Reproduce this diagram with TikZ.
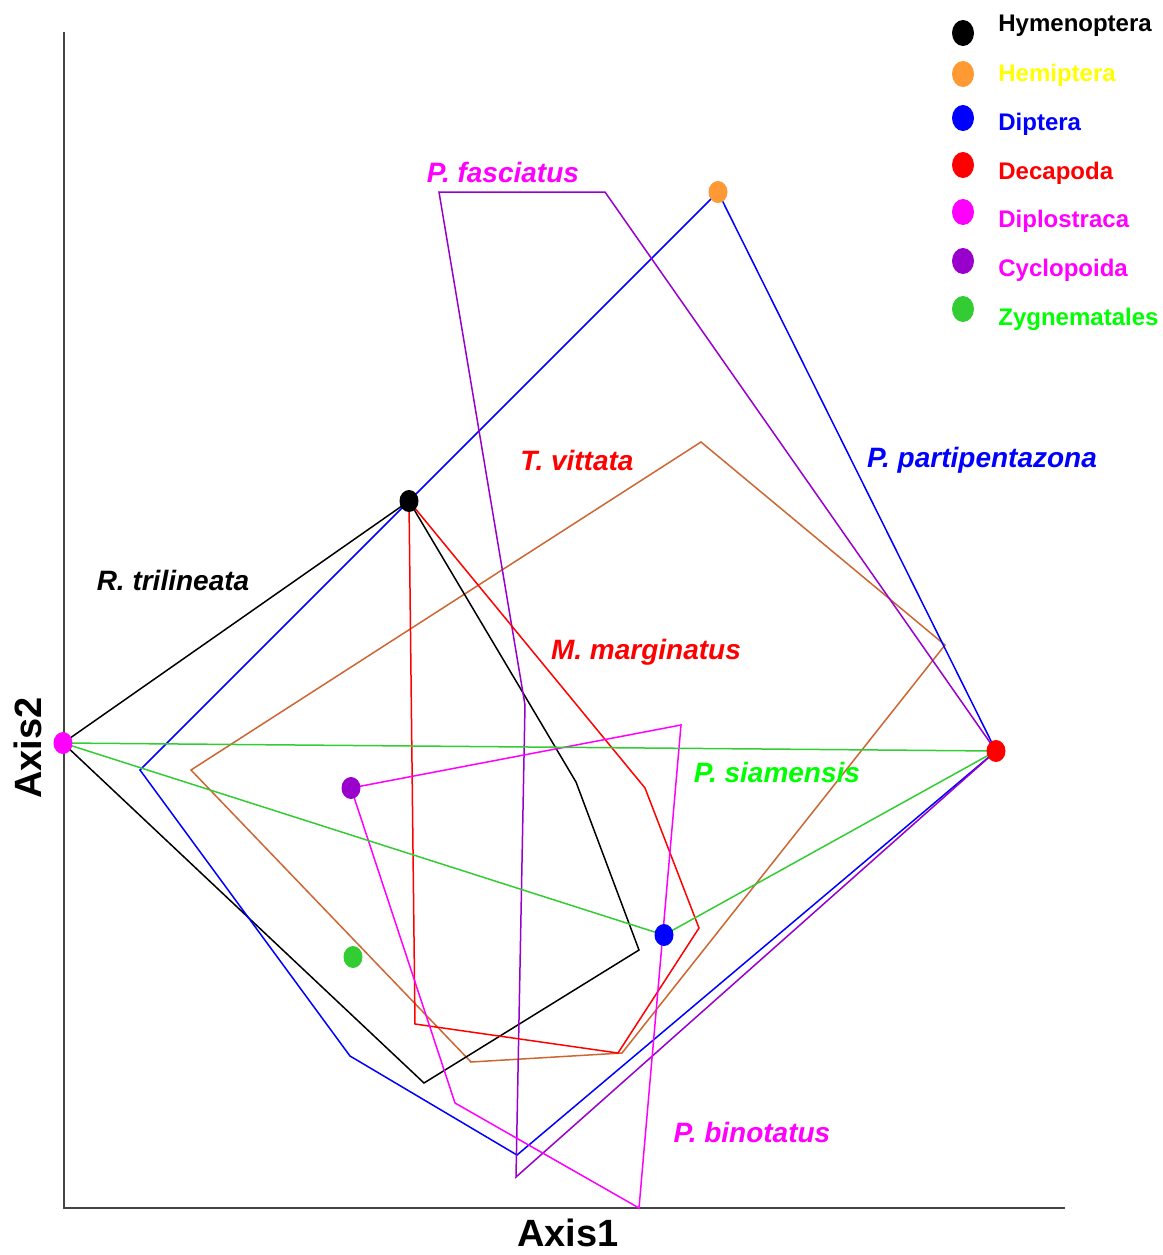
\documentclass[tikz,border=0pt]{standalone}
\usepackage{fontspec}
\setmainfont{Liberation Sans}
\usetikzlibrary{positioning,shapes.geometric}
\definecolor{hemorange}{HTML}{FF9933}
\definecolor{cycpurple}{HTML}{9900CC}
\definecolor{zyggreen}{HTML}{33CC33}
\definecolor{limegreen}{HTML}{00FF00}
\definecolor{labelyellow}{HTML}{FFFF00}
\definecolor{pinkmag}{HTML}{FF00FF}
\definecolor{hullbrown}{HTML}{CC6633}
\definecolor{axisgray}{HTML}{444444}
\tikzset{
  axisline/.style={draw=axisgray,line width=0.6pt},
  hull/.style={line width=0.75pt,line join=miter},
  dot/.style={
    ellipse,
    inner sep=0pt,
    minimum width=9.5pt,
    minimum height=11pt
  },
  keydot/.style={
    ellipse,
    inner sep=0pt,
    minimum width=11pt,
    minimum height=13pt
  },
  keytext/.style={anchor=west,inner sep=0pt,font=\fontsize{12}{14}\selectfont\bfseries},
  species/.style={font=\fontsize{14}{16}\selectfont\bfseries\itshape},
  axistitle/.style={inner sep=0pt,font=\fontsize{19}{22}\selectfont\bfseries}
}

\begin{document}
\begin{tikzpicture}[x=0.5pt,y=-0.5pt]
\useasboundingbox (0,0) rectangle (1163,1255);
\draw[axisline] (64,32) -- (64,1208) -- (1065,1208);
\coordinate (hym) at (409,501);
\coordinate (hem) at (718,192);
\coordinate (dip) at (664,935);
\coordinate (dec) at (996,751);
\coordinate (dpl) at (63,743);
\coordinate (cyc) at (351,788);
\coordinate (zyg) at (353,957);
% convex hulls
\draw[hull,draw=hullbrown] (701,442) -- (945,645) -- (622,1053) -- (471,1062) -- (191,770) -- cycle;
\draw[hull,draw=black] (hym) -- (576,782) -- (639,950) -- (424,1083) -- (dpl) -- cycle;
\draw[hull,draw=blue] (hym) -- (hem) -- (dec) -- (517,1155) -- (350,1056) -- (140,770) -- cycle;
\draw[hull,draw=cycpurple] (439,192) -- (605,192) -- (dec) -- (516,1177) -- (525,705) -- cycle;
\draw[hull,draw=red] (hym) -- (645,788) -- (699,928) -- (618,1053) -- (415,1024) -- cycle;
\draw[hull,draw=pinkmag] (cyc) -- (681,725) -- (639,1208) -- (455,1103) -- cycle;
\draw[hull,draw=zyggreen] (dpl) -- (dec) -- (dip) -- cycle;
% points
\node[dot,fill=black] (hymdot) at (hym) {};
\node[dot,fill=hemorange] (hemdot) at (hem) {};
\node[dot,fill=blue] (dipdot) at (dip) {};
\node[dot,fill=red] (decdot) at (dec) {};
\node[dot,fill=pinkmag] (dpldot) at (dpl) {};
\node[dot,fill=cycpurple] (cycdot) at (cyc) {};
\node[dot,fill=zyggreen] (zygdot) at (zyg) {};
% species labels
\node[species,text=pinkmag] (fasc) at (503,172) {P. fasciatus};
\node[species,text=red] (vitt) at (577,460) {T. vittata};
\node[species,text=blue] (part) at (982,460) {P. partipentazona};
\node[species,text=black] (tril) at (173,580) {R. trilineata};
\node[species,text=red] (marg) at (646,652) {M. marginatus};
\node[species,text=limegreen] (siam) at (777,772) {P. siamensis};
\node[species,text=pinkmag] (bino) at (752,1132) {P. binotatus};
% axis titles
\node[axistitle,rotate=90] (ytitle) at (28,748) {Axis2};
\node[axistitle] (xtitle) at (568,1233) {Axis1};
% legend
\foreach \name/\dy/\ty/\dcol/\tcol in {
  Hymenoptera/33/26/black/black,
  Hemiptera/74/75/hemorange/labelyellow,
  Diptera/118/124/blue/blue,
  Decapoda/165/173/red/red,
  Diplostraca/212/221/pinkmag/pinkmag,
  Cyclopoida/261/270/cycpurple/pinkmag,
  Zygnematales/309/319/zyggreen/limegreen}{
  \node[keydot,fill=\dcol] (key\name) at (963,\dy) {};
  \node[keytext,text=\tcol] (txt\name) at (998,\ty) {\name};
}
\end{tikzpicture}
\end{document}
